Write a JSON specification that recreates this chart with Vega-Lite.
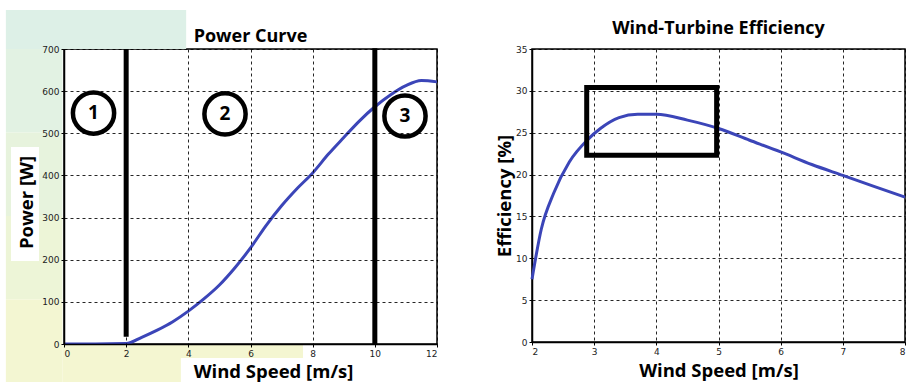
{
  "$schema": "https://vega.github.io/schema/vega-lite/v6.json",
  "background": "white",
  "padding": {"left": 5, "top": 9, "right": 2, "bottom": 2},
  "spacing": 50,
  "config": {
    "view": {"stroke": "black", "strokeWidth": 1.5},
    "axis": {
      "domainColor": "black",
      "domainWidth": 1.5,
      "grid": true,
      "gridColor": "black",
      "gridDash": [3, 3],
      "gridOpacity": 0.85,
      "gridWidth": 1,
      "tickColor": "black",
      "tickSize": 3,
      "labelFont": "DejaVu Sans",
      "labelFontSize": 9,
      "labelColor": "#222",
      "titleFont": "Open Sans",
      "titleFontWeight": "bold",
      "titleFontSize": 18.5,
      "titleColor": "black"
    },
    "title": {"font": "Open Sans", "fontWeight": "bold", "fontSize": 18, "color": "black"}
  },
  "datasets": {
    "power": [
      {"speed": 0, "power": 0}, {"speed": 1, "power": 0}, {"speed": 2, "power": 1},
      {"speed": 2.5, "power": 16}, {"speed": 3, "power": 33}, {"speed": 3.5, "power": 53},
      {"speed": 4, "power": 78}, {"speed": 4.5, "power": 107}, {"speed": 5, "power": 140},
      {"speed": 5.5, "power": 181}, {"speed": 6, "power": 228}, {"speed": 6.5, "power": 281},
      {"speed": 7, "power": 328}, {"speed": 7.5, "power": 369}, {"speed": 8, "power": 406},
      {"speed": 8.5, "power": 450}, {"speed": 9, "power": 490}, {"speed": 9.5, "power": 529},
      {"speed": 10, "power": 563}, {"speed": 10.5, "power": 591}, {"speed": 11, "power": 613},
      {"speed": 11.5, "power": 625}, {"speed": 12, "power": 622}
    ],
    "regions": [
      {"speed": 2, "lo": 17, "hi": 711},
      {"speed": 10, "lo": 0, "hi": 702}
    ],
    "labels": [
      {"speed": 0.95, "power": 548, "label": "1"},
      {"speed": 5.18, "power": 546, "label": "2"},
      {"speed": 10.97, "power": 541, "label": "3"}
    ],
    "eff": [
      {"speed": 2.0, "eff": 7.5}, {"speed": 2.15, "eff": 13.5}, {"speed": 2.35, "eff": 17.8},
      {"speed": 2.6, "eff": 21.5}, {"speed": 2.9, "eff": 24.2}, {"speed": 3.1, "eff": 25.5},
      {"speed": 3.4, "eff": 26.8}, {"speed": 3.7, "eff": 27.2}, {"speed": 4.0, "eff": 27.2},
      {"speed": 4.5, "eff": 26.5}, {"speed": 5.0, "eff": 25.5}, {"speed": 5.5, "eff": 24.1},
      {"speed": 6.0, "eff": 22.7}, {"speed": 6.5, "eff": 21.2}, {"speed": 7.0, "eff": 19.9},
      {"speed": 7.5, "eff": 18.6}, {"speed": 8.0, "eff": 17.3}
    ],
    "box": [{"x1": 2.88, "x2": 4.97, "y1": 22.3, "y2": 30.4}],
    "one": [{}]
  },
  "hconcat": [
    {
      "width": 373,
      "height": 295,
      "title": {"text": "Power Curve", "offset": -36},
      "layer": [
        {
          "data": {"name": "power"},
          "mark": {"type": "line", "color": "#3b45b8", "strokeWidth": 3, "interpolate": "monotone"},
          "encoding": {
            "x": {"field": "speed", "type": "quantitative",
                  "scale": {"domain": [0, 12], "nice": false},
                  "axis": {"values": [0, 2, 4, 6, 8, 10, 12], "title": "Wind Speed [m/s]", "titlePadding": 4, "titleX": 209, "grid": true, "zindex": 1}},
            "y": {"field": "power", "type": "quantitative",
                  "scale": {"domain": [0, 700], "nice": false},
                  "axis": {"values": [0, 100, 200, 300, 400, 500, 600, 700], "title": "Power [W]", "titlePadding": 5, "titleY": 153, "grid": true, "zindex": 1}}
          }
        },
        {
          "data": {"name": "regions"},
          "mark": {"type": "rule", "strokeWidth": 5, "color": "black", "clip": false},
          "encoding": {
            "x": {"field": "speed", "type": "quantitative"},
            "y": {"field": "lo", "type": "quantitative"},
            "y2": {"field": "hi"}
          }
        },
        {
          "data": {"name": "labels"},
          "mark": {"type": "point", "shape": "circle", "size": 1700, "filled": false, "strokeWidth": 4.5, "color": "black", "opacity": 1},
          "encoding": {
            "x": {"field": "speed", "type": "quantitative"},
            "y": {"field": "power", "type": "quantitative"}
          }
        },
        {
          "data": {"name": "labels"},
          "mark": {"type": "text", "font": "Open Sans", "fontWeight": "bold", "fontSize": 19, "color": "black"},
          "encoding": {
            "x": {"field": "speed", "type": "quantitative"},
            "y": {"field": "power", "type": "quantitative"},
            "text": {"field": "label"}
          }
        },
        {
          "data": {"name": "one"},
          "mark": {"type": "rect", "clip": false, "fill": "#ddf0e7"},
          "encoding": {"x": {"datum": -1.87, "type": "quantitative"}, "x2": {"datum": 3.93}, "y": {"datum": 700, "type": "quantitative"}, "y2": {"datum": 792.6}}
        },
        {
          "data": {"name": "one"},
          "mark": {"type": "rect", "clip": false, "fill": "#e2f2e3"},
          "encoding": {"x": {"datum": -1.87, "type": "quantitative"}, "x2": {"datum": -0.05}, "y": {"datum": 501.9, "type": "quantitative"}, "y2": {"datum": 700}}
        },
        {
          "data": {"name": "one"},
          "mark": {"type": "rect", "clip": false, "fill": "#e7f3dd"},
          "encoding": {"x": {"datum": -1.87, "type": "quantitative"}, "x2": {"datum": -0.05}, "y": {"datum": 303.8, "type": "quantitative"}, "y2": {"datum": 501.9}}
        },
        {
          "data": {"name": "one"},
          "mark": {"type": "rect", "clip": false, "fill": "#edf5d7"},
          "encoding": {"x": {"datum": -1.87, "type": "quantitative"}, "x2": {"datum": -0.05}, "y": {"datum": 105.6, "type": "quantitative"}, "y2": {"datum": 303.8}}
        },
        {
          "data": {"name": "one"},
          "mark": {"type": "rect", "clip": false, "fill": "#f3f6d2"},
          "encoding": {"x": {"datum": -1.87, "type": "quantitative"}, "x2": {"datum": -0.05}, "y": {"datum": -92.5, "type": "quantitative"}, "y2": {"datum": 105.6}}
        },
        {
          "data": {"name": "one"},
          "mark": {"type": "rect", "clip": false, "fill": "#f4f6d1"},
          "encoding": {"x": {"datum": -0.05, "type": "quantitative"}, "x2": {"datum": 7.69}, "y": {"datum": -33, "type": "quantitative"}, "y2": {"datum": -2}}
        },
        {
          "data": {"name": "one"},
          "mark": {"type": "rect", "clip": false, "fill": "#f4f6d1"},
          "encoding": {"x": {"datum": -0.05, "type": "quantitative"}, "x2": {"datum": 3.76}, "y": {"datum": -92.5, "type": "quantitative"}, "y2": {"datum": -33}}
        },
        {
          "data": {"name": "one"},
          "mark": {"type": "rect", "clip": false, "fill": "white"},
          "encoding": {"x": {"datum": -1.705, "type": "quantitative"}, "x2": {"datum": -0.804}, "y": {"datum": 197, "type": "quantitative"}, "y2": {"datum": 467.5}}
        }
      ]
    },
    {
      "width": 373,
      "height": 293,
      "title": {"text": "Wind-Turbine Efficiency", "offset": 7},
      "layer": [
        {
          "data": {"name": "eff"},
          "mark": {"type": "line", "color": "#3b45b8", "strokeWidth": 3, "interpolate": "monotone"},
          "encoding": {
            "x": {"field": "speed", "type": "quantitative",
                  "scale": {"domain": [2, 8], "nice": false},
                  "axis": {"values": [2, 3, 4, 5, 6, 7, 8], "format": "d", "title": "Wind Speed [m/s]", "titlePadding": 5}},
            "y": {"field": "eff", "type": "quantitative",
                  "scale": {"domain": [0, 35], "nice": false},
                  "axis": {"values": [0, 5, 10, 15, 20, 25, 30, 35], "title": "Efficiency [%]", "titlePadding": 1}}
          }
        },
        {
          "data": {"name": "box"},
          "mark": {"type": "rect", "fill": null, "fillOpacity": 0, "stroke": "black", "strokeWidth": 5},
          "encoding": {
            "x": {"field": "x1", "type": "quantitative"},
            "x2": {"field": "x2"},
            "y": {"field": "y1", "type": "quantitative"},
            "y2": {"field": "y2"}
          }
        }
      ]
    }
  ]
}
